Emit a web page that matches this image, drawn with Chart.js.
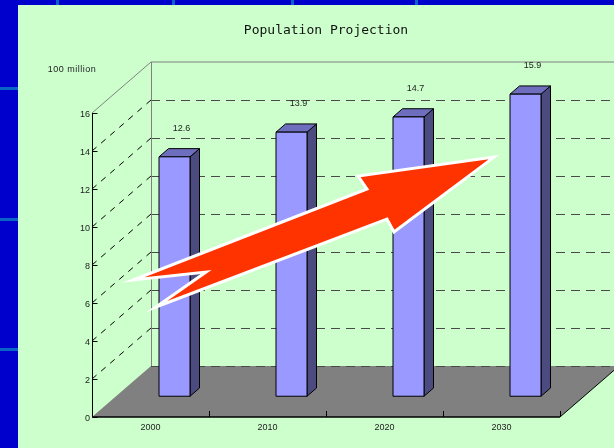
<!DOCTYPE html>
<html>
<head>
<meta charset="utf-8">
<script src="https://cdn.jsdelivr.net/npm/chart.js@4/dist/chart.umd.min.js"></script>
<style>
  html, body { margin: 0; padding: 0; }
  body { width: 614px; height: 448px; background: #0000CC; position: relative; overflow: hidden; }
  .gl { position: absolute; background: #0A64C8; }
  #wrap { position: absolute; left: 18px; top: 5px; width: 596px; height: 443px; background: #CCFFCC; }
  canvas { display: block; }
</style>
</head>
<body>
<div class="gl" style="left:56px;top:0;width:3px;height:5px"></div>
<div class="gl" style="left:172px;top:0;width:3px;height:5px"></div>
<div class="gl" style="left:291px;top:0;width:3px;height:5px"></div>
<div class="gl" style="left:415px;top:0;width:3px;height:5px"></div>
<div class="gl" style="left:0;top:87px;width:18px;height:3px"></div>
<div class="gl" style="left:0;top:218px;width:18px;height:3px"></div>
<div class="gl" style="left:0;top:348px;width:18px;height:3px"></div>
<div id="wrap"><canvas id="c" width="596" height="443"></canvas></div>
<script>
// Population by decade, in units of 100 million
const categories = ['2000', '2010', '2020', '2030'];
const population = [12.6, 13.9, 14.7, 15.9];
const yMin = 0, yMax = 16, yStep = 2;
const unitLabel = '100 million';
const titleText = 'Population Projection';

// Trend arrow outline: [category position, value]
const arrowCategory = [-0.15, 0.474, 0.047, 2.021, 2.081, 2.936, 1.774, 1.85];
const arrowValue    = [7.21, 7.63, 5.79, 10.42, 9.74, 13.68, 12.68, 12.0];

// Depth of the 3-D box and where the bars sit inside it
const DEPTH_X = 59, DEPTH_Y = 51;
const BAR_NEAR = 0.407, BAR_FAR = 0.568;

const tickFont = { family: "'Liberation Sans', Arial, sans-serif", size: 9 };

function crisp(v) { return Math.round(v) + 0.5; }

const box3d = {
  id: 'box3d',
  beforeDatasetsDraw(chart) {
    const { ctx, chartArea: a, scales: { x, y } } = chart;
    const L = a.left, R = a.right, B = a.bottom;
    ctx.save();

    // floor
    ctx.fillStyle = '#808080';
    ctx.beginPath();
    ctx.moveTo(L, B);
    ctx.lineTo(R, B);
    ctx.lineTo(R + DEPTH_X, B - DEPTH_Y);
    ctx.lineTo(L + DEPTH_X, B - DEPTH_Y);
    ctx.closePath();
    ctx.fill();

    // gridlines on back wall and left wall
    ctx.lineWidth = 1;
    y.ticks.forEach(t => {
      const py = y.getPixelForValue(t.value);
      const by = crisp(py - DEPTH_Y);
      if (t.value === yMax) {
        ctx.setLineDash([]);
        ctx.strokeStyle = '#808080';
        ctx.beginPath();
        ctx.moveTo(L, py);
        ctx.lineTo(L + DEPTH_X, py - DEPTH_Y);
        ctx.lineTo(chart.width + 5, py - DEPTH_Y);
        ctx.stroke();
        return;
      }
      ctx.strokeStyle = '#4A4A4A';
      ctx.setLineDash([9, 6]);
      ctx.beginPath();
      ctx.moveTo(L + DEPTH_X, by);
      ctx.lineTo(chart.width + 5, by);
      ctx.stroke();
      if (t.value !== yMin) {
        ctx.strokeStyle = '#000000';
        ctx.setLineDash([6, 6]);
        ctx.beginPath();
        ctx.moveTo(L, py);
        ctx.lineTo(L + DEPTH_X, py - DEPTH_Y);
        ctx.stroke();
      }
    });
    ctx.setLineDash([]);

    // back wall left edge
    ctx.strokeStyle = '#808080';
    ctx.beginPath();
    ctx.moveTo(crisp(L + DEPTH_X), y.getPixelForValue(yMax) - DEPTH_Y);
    ctx.lineTo(crisp(L + DEPTH_X), B - DEPTH_Y);
    ctx.stroke();

    // floor right edge
    ctx.strokeStyle = '#000000';
    ctx.beginPath();
    ctx.moveTo(R, B);
    ctx.lineTo(R + DEPTH_X, B - DEPTH_Y);
    ctx.stroke();

    // value axis with ticks
    const ax = crisp(L);
    ctx.beginPath();
    ctx.moveTo(ax, y.getPixelForValue(yMax));
    ctx.lineTo(ax, B);
    y.ticks.forEach(t => {
      const py = crisp(y.getPixelForValue(t.value));
      ctx.moveTo(ax, py);
      ctx.lineTo(ax + 5, py);
    });
    ctx.stroke();

    // category axis with ticks between categories
    const step = x.getPixelForValue(1) - x.getPixelForValue(0);
    ctx.lineWidth = 1.5;
    ctx.beginPath();
    ctx.moveTo(L, B);
    ctx.lineTo(R, B);
    ctx.stroke();
    ctx.lineWidth = 1;
    ctx.beginPath();
    categories.forEach((c, i) => {
      const px = crisp(x.getPixelForValue(i) + step / 2);
      ctx.moveTo(px, B);
      ctx.lineTo(px, B - 6);
    });
    ctx.stroke();

    // unit label
    ctx.fillStyle = '#222222';
    ctx.font = "9px 'Liberation Sans', Arial, sans-serif";
    ctx.textAlign = 'center';
    ctx.textBaseline = 'middle';
    try { ctx.letterSpacing = '0.5px'; } catch (e) {}
    ctx.fillText(unitLabel, L - 20, y.getPixelForValue(yMax) - 43);
    ctx.restore();
  },
  afterDatasetsDraw(chart) {
    const { ctx, scales: { x, y } } = chart;
    const meta = chart.getDatasetMeta(0);
    const nx = DEPTH_X * BAR_NEAR, ny = DEPTH_Y * BAR_NEAR;
    const fx = DEPTH_X * BAR_FAR, fy = DEPTH_Y * BAR_FAR;
    ctx.save();
    ctx.lineWidth = 1;
    ctx.strokeStyle = '#000000';
    ctx.lineJoin = 'miter';
    meta.data.forEach((bar, i) => {
      const p = bar.getProps(['x', 'y', 'base', 'width'], true);
      const l = p.x - p.width / 2, r = p.x + p.width / 2;
      const top = p.y, base = p.base;
      // side
      ctx.fillStyle = '#4B4B80';
      ctx.beginPath();
      ctx.moveTo(r + nx, top - ny);
      ctx.lineTo(r + fx, top - fy);
      ctx.lineTo(r + fx, base - fy);
      ctx.lineTo(r + nx, base - ny);
      ctx.closePath();
      ctx.fill(); ctx.stroke();
      // top
      ctx.fillStyle = '#6E6EBE';
      ctx.beginPath();
      ctx.moveTo(l + nx, top - ny);
      ctx.lineTo(l + fx, top - fy);
      ctx.lineTo(r + fx, top - fy);
      ctx.lineTo(r + nx, top - ny);
      ctx.closePath();
      ctx.fill(); ctx.stroke();
      // front
      ctx.fillStyle = '#9999FF';
      ctx.beginPath();
      ctx.rect(l + nx, top - ny, r - l, base - top);
      ctx.fill(); ctx.stroke();
      // value label
      ctx.fillStyle = '#222222';
      ctx.font = "9px 'Liberation Sans', Arial, sans-serif";
      ctx.textAlign = 'center';
      ctx.textBaseline = 'middle';
      ctx.fillText(population[i].toFixed(1), p.x + 31, top - 49);
    });

    // trend arrow
    const step = x.getPixelForValue(1) - x.getPixelForValue(0);
    const x0 = x.getPixelForValue(0);
    ctx.beginPath();
    arrowCategory.forEach((c, i) => {
      const px = x0 + c * step, py = y.getPixelForValue(arrowValue[i]);
      if (i === 0) ctx.moveTo(px, py); else ctx.lineTo(px, py);
    });
    ctx.closePath();
    ctx.fillStyle = '#FF3300';
    ctx.fill();
    ctx.strokeStyle = '#FFFFFF';
    ctx.lineWidth = 3;
    ctx.stroke();
    ctx.restore();
  }
};

new Chart(document.getElementById('c'), {
  type: 'bar',
  data: {
    labels: categories,
    datasets: [{
      data: population,
      backgroundColor: 'rgba(0,0,0,0)',
      borderWidth: 0,
      barPercentage: 1,
      categoryPercentage: 0.265
    }]
  },
  options: {
    responsive: false,
    animation: false,
    devicePixelRatio: 1,
    layout: { padding: { left: 50, right: 54, top: 0, bottom: 0 } },
    plugins: {
      legend: { display: false },
      tooltip: { enabled: false },
      title: {
        display: true,
        fullSize: false,
        text: titleText,
        color: '#111111',
        font: { family: "'DejaVu Sans Mono', monospace", size: 13, weight: 'normal' },
        padding: { top: 18.2, bottom: 74.2 }
      }
    },
    scales: {
      x: {
        grid: { display: false, drawTicks: false },
        border: { display: false },
        ticks: { color: '#222222', font: tickFont, padding: 5, maxRotation: 0 },
        afterFit(s) { s.height = 31; }
      },
      y: {
        min: yMin, max: yMax,
        grid: { display: false, drawTicks: false },
        border: { display: false },
        ticks: { stepSize: yStep, color: '#222222', font: tickFont, padding: 2, labelOffset: 2 },
        afterFit(s) { s.width = 24; }
      }
    }
  },
  plugins: [box3d]
});
</script>
</body>
</html>
